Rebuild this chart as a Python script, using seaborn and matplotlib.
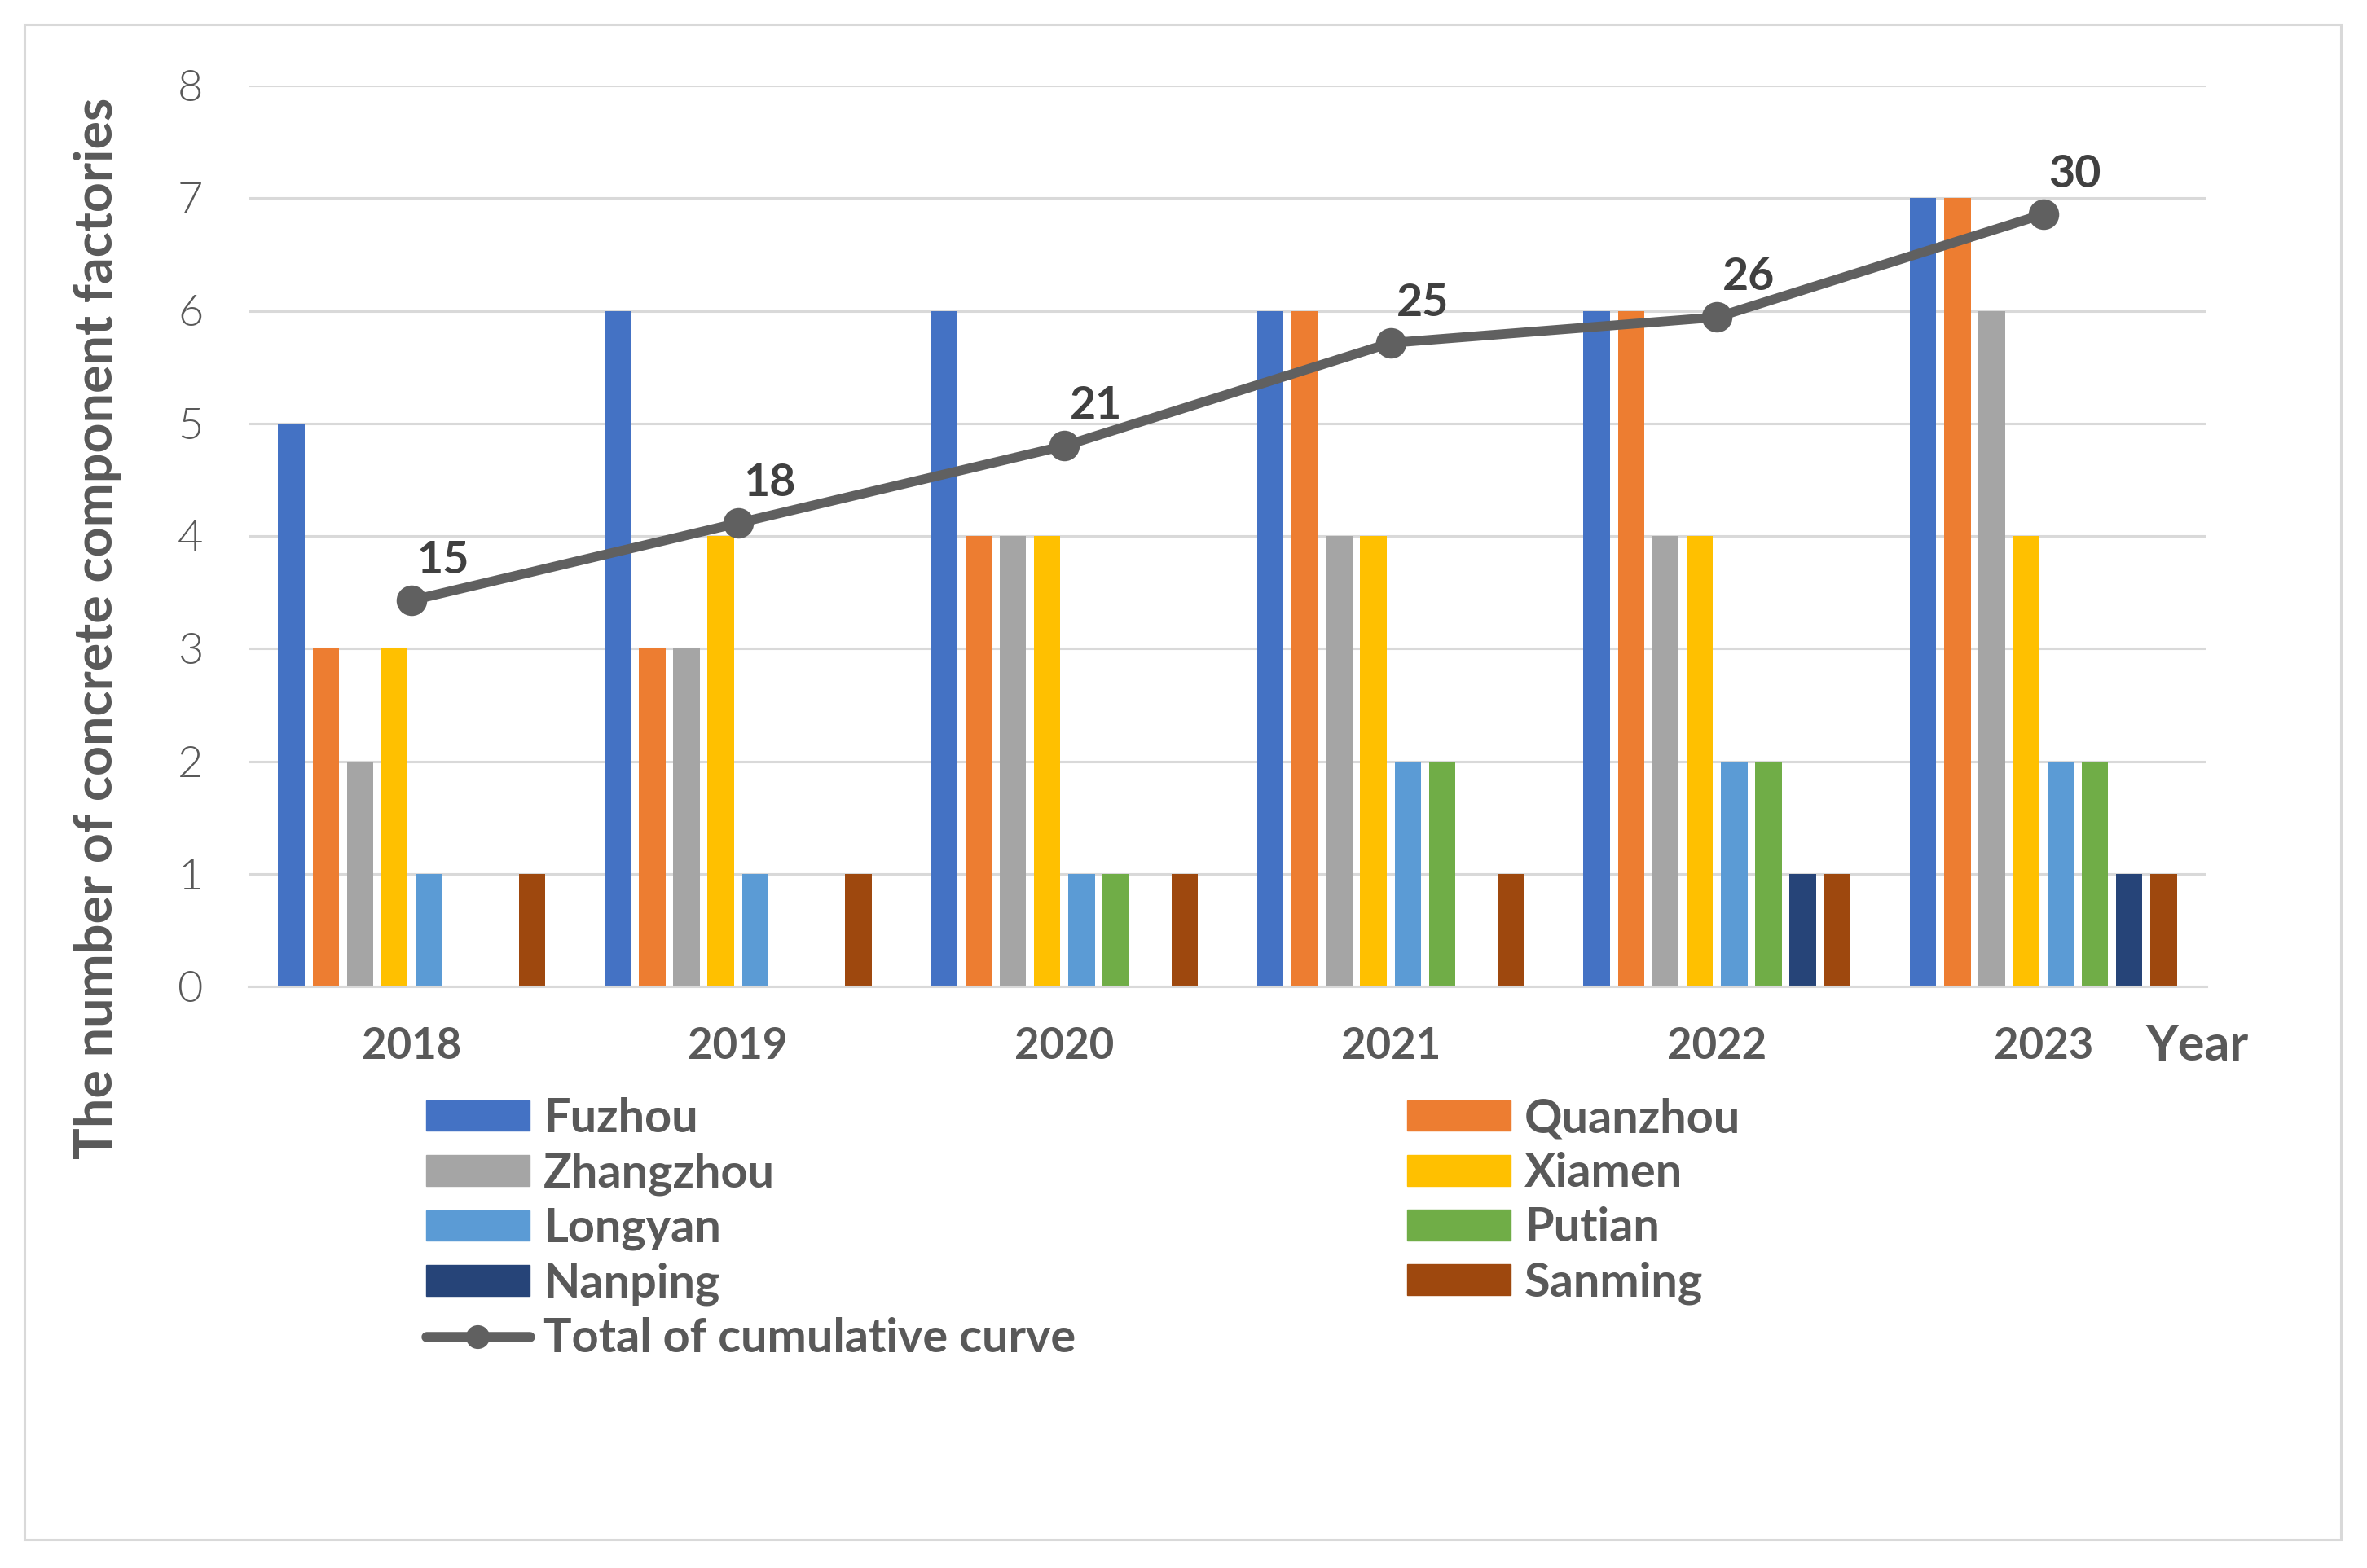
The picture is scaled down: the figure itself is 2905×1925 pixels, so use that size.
import matplotlib
matplotlib.use("Agg")
import matplotlib.pyplot as plt
from matplotlib.patches import Patch, Rectangle
from matplotlib.lines import Line2D
import seaborn as sns
import pandas as pd
import numpy as np

years = ["2018", "2019", "2020", "2021", "2022", "2023"]
cities = ["Fuzhou", "Quanzhou", "Zhangzhou", "Xiamen", "Longyan", "Putian", "Nanping", "Sanming"]
fuzhou = [5, 6, 6, 6, 6, 7]
quanzhou = [3, 3, 4, 6, 6, 7]
zhangzhou = [2, 3, 4, 4, 4, 6]
xiamen = [3, 4, 4, 4, 4, 4]
longyan = [1, 1, 1, 2, 2, 2]
putian = [0, 0, 1, 2, 2, 2]
nanping = [0, 0, 0, 0, 1, 1]
sanming = [1, 1, 1, 1, 1, 1]
totals = [15, 18, 21, 25, 26, 30]

colors = ["#4472C4", "#ED7D31", "#A5A5A5", "#FFC000", "#5B9BD5", "#70AD47", "#264478", "#9E480E"]
text_gray = "#595959"
grid_gray = "#D9D9D9"
line_gray = "#606060"

series = [fuzhou, quanzhou, zhangzhou, xiamen, longyan, putian, nanping, sanming]
rows = []
for city, vals in zip(cities, series):
    for y, v in zip(years, vals):
        rows.append({"Year": y, "City": city, "Count": v})
df = pd.DataFrame(rows)

sns.set_theme(style="white")
plt.rcParams["font.family"] = ["Lato", "DejaVu Sans"]

W, H = 2905, 1925
fig = plt.figure(figsize=(W / 100, H / 100), dpi=100)
ax = fig.add_axes([305 / W, 1 - 1211 / H, (2708 - 305) / W, (1211 - 105) / H])

sns.barplot(data=df, x="Year", y="Count", hue="City", hue_order=cities, order=years,
            palette=colors, saturation=1, width=0.842, gap=0.23, linewidth=0, ax=ax, legend=False)

ax.set_xlim(-0.5, 5.5)
ax.set_ylim(0, 8)
ax.set_yticks(range(0, 9))
ax.yaxis.grid(True, color=grid_gray, linewidth=2.2)
ax.set_axisbelow(True)
for s in ["top", "right", "left"]:
    ax.spines[s].set_visible(False)
ax.spines["bottom"].set_color(grid_gray)
ax.spines["bottom"].set_linewidth(2.2)
ax.tick_params(axis="both", length=0)
ax.tick_params(axis="x", pad=35)
ax.tick_params(axis="y", pad=40)
ax.set_xlabel("")
ax.set_ylabel("")
for lab in ax.get_xticklabels():
    lab.set_fontsize(38)
    lab.set_fontweight("bold")
    lab.set_color(text_gray)
for lab in ax.get_yticklabels():
    lab.set_fontsize(39)
    lab.set_fontweight(300)
    lab.set_color(text_gray)

# cumulative total on a hidden secondary axis (0-35)
ax2 = ax.twinx()
sns.lineplot(x=np.arange(len(years)), y=totals, ax=ax2, color=line_gray, linewidth=8.5,
             marker="o", markersize=27, markeredgewidth=0)
ax2.set_ylim(0, 35)
ax2.set_xlim(-0.5, 5.5)
ax2.axis("off")
for i, t in enumerate(totals):
    ax2.annotate(str(t), (i, t), xytext=(28, 24), textcoords="offset points",
                 ha="center", va="baseline", fontsize=40, fontweight="bold", color="#404040")

fig.text(120 / W, 1 - 771 / H, "The number of concrete component factories", rotation=90,
         ha="center", va="center", fontsize=46.5, fontweight="bold", color=text_gray)
fig.text(2633 / W, 1 - 1302 / H, "Year", ha="left", va="baseline",
         fontsize=44, fontweight="bold", color=text_gray)

# legend in two columns, filled row by row
left_idx = [0, 2, 4, 6]
right_idx = [1, 3, 5, 7]
left_handles = [Patch(color=colors[i]) for i in left_idx]
left_labels = [cities[i] for i in left_idx]
left_handles.append(Line2D([0], [0], color=line_gray, linewidth=9, marker="o", markersize=20))
left_labels.append("Total of cumulative curve")
right_handles = [Patch(color=colors[i]) for i in right_idx]
right_labels = [cities[i] for i in right_idx]

leg_kw = dict(loc="upper left", frameon=False, borderpad=0, borderaxespad=0,
              handlelength=2.2, handleheight=0.62, handletextpad=0.3, labelspacing=0.245,
              prop={"family": "Lato", "weight": "bold", "size": 41.5}, labelcolor=text_gray)
leg1 = fig.legend(left_handles, left_labels, bbox_to_anchor=(523 / W, 1 - 1347 / H), **leg_kw)
leg2 = fig.legend(right_handles, right_labels, bbox_to_anchor=(1727 / W, 1 - 1347 / H), **leg_kw)

fig.add_artist(Rectangle((30 / W, 1 - 1890 / H), (2873 - 30) / W, (1890 - 30) / H,
                         transform=fig.transFigure, fill=False, edgecolor=grid_gray, linewidth=2.2))

fig.savefig("out.png", dpi=100, facecolor="white")
